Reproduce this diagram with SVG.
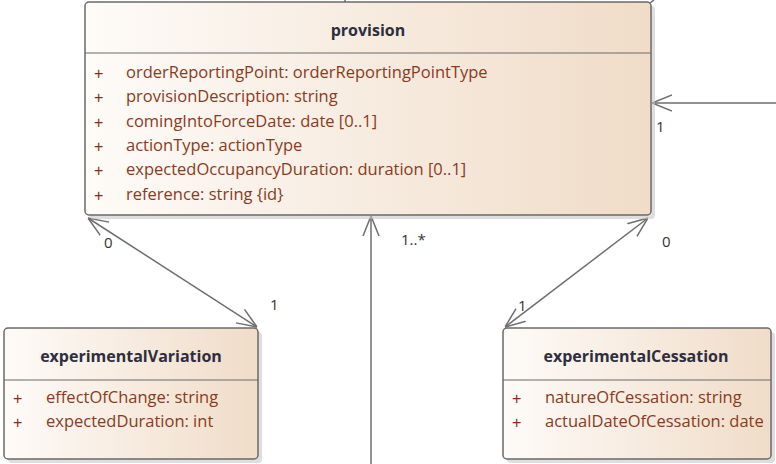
<svg xmlns="http://www.w3.org/2000/svg" width="776" height="464" viewBox="0 0 776 464">
<defs>
<linearGradient id="g" x1="0" y1="0" x2="1" y2="0">
<stop offset="0" stop-color="#fefbf8"/>
<stop offset="1" stop-color="#f0dcc8"/>
</linearGradient>
<marker id="a" viewBox="0 0 20 20" refX="20" refY="10" markerWidth="20" markerHeight="20" markerUnits="userSpaceOnUse" orient="auto-start-reverse">
<path d="M0,2 L20,10 L0,18" fill="none" stroke="#6e6e6e" stroke-width="1.5"/>
</marker>
</defs>
<style>
.box{fill:url(#g);stroke:#6a6a6a;stroke-width:1.5}
.sh{fill:#c8c8c8;opacity:0.6}
.div{stroke:#6a6a6a;stroke-width:1.2}
.t{font-family:"Open Sans","Liberation Sans",sans-serif;font-weight:bold;font-size:16px;fill:#2e2e3e;text-anchor:middle}
.at{font-family:"Open Sans","Liberation Sans",sans-serif;font-size:16.5px;fill:#8a3b1c}
.p{font-family:"Liberation Sans",sans-serif;font-size:16px;fill:#8a2a1c}
.c{stroke:#6e6e6e;stroke-width:1.5;fill:none}
.l{font-family:"Open Sans","Liberation Sans",sans-serif;font-size:15px;fill:#333}
</style>
<g id="connectors">
<line class="c" x1="88" y1="218" x2="257" y2="327" marker-start="url(#a)" marker-end="url(#a)"/>
<line class="c" x1="371" y1="464" x2="371" y2="216" marker-end="url(#a)"/>
<line class="c" x1="648" y1="218" x2="505" y2="327" marker-start="url(#a)" marker-end="url(#a)"/>
<line class="c" x1="776" y1="103" x2="652" y2="103" marker-end="url(#a)"/>
<line class="c" x1="345" y1="0" x2="345" y2="3"/>
<line class="c" x1="650" y1="3" x2="654" y2="0"/>
<text class="l" x="104" y="248">0</text>
<text class="l" x="270" y="310">1</text>
<text class="l" x="401" y="245">1..*</text>
<text class="l" x="662" y="247">0</text>
<text class="l" x="518" y="311">1</text>
<text class="l" x="656" y="132">1</text>
</g>
<g id="provision">
<rect class="sh" x="89" y="6" width="566" height="213" rx="4"/>
<rect class="box" x="85" y="2" width="566" height="213" rx="4"/>
<line class="div" x1="85" y1="53" x2="651" y2="53"/>
<text class="t" x="368" y="36">provision</text>
<text class="p" x="94" y="79">+</text>
<text class="p" x="94" y="103">+</text>
<text class="p" x="94" y="128">+</text>
<text class="p" x="94" y="152">+</text>
<text class="p" x="94" y="176">+</text>
<text class="p" x="94" y="201">+</text>
<text class="at" x="126" y="78">orderReportingPoint: orderReportingPointType</text>
<text class="at" x="126" y="102">provisionDescription: string</text>
<text class="at" x="126" y="127">comingIntoForceDate: date [0..1]</text>
<text class="at" x="126" y="151">actionType: actionType</text>
<text class="at" x="126" y="175">expectedOccupancyDuration: duration [0..1]</text>
<text class="at" x="126" y="200">reference: string {id}</text>
</g>
<g id="experimentalVariation">
<rect class="sh" x="8" y="332" width="254" height="131" rx="4"/>
<rect class="box" x="4" y="328" width="254" height="131" rx="4"/>
<line class="div" x1="4" y1="380" x2="258" y2="380"/>
<text class="t" x="131" y="362">experimentalVariation</text>
<text class="p" x="13" y="404">+</text>
<text class="p" x="13" y="428">+</text>
<text class="at" x="46" y="403">effectOfChange: string</text>
<text class="at" x="46" y="427">expectedDuration: int</text>
</g>
<g id="experimentalCessation">
<rect class="sh" x="507" y="332" width="268" height="131" rx="4"/>
<rect class="box" x="503" y="328" width="268" height="131" rx="4"/>
<line class="div" x1="503" y1="380" x2="771" y2="380"/>
<text class="t" x="636" y="362">experimentalCessation</text>
<text class="p" x="512" y="404">+</text>
<text class="p" x="512" y="428">+</text>
<text class="at" x="545" y="403">natureOfCessation: string</text>
<text class="at" x="545" y="427">actualDateOfCessation: date</text>
</g>
</svg>
